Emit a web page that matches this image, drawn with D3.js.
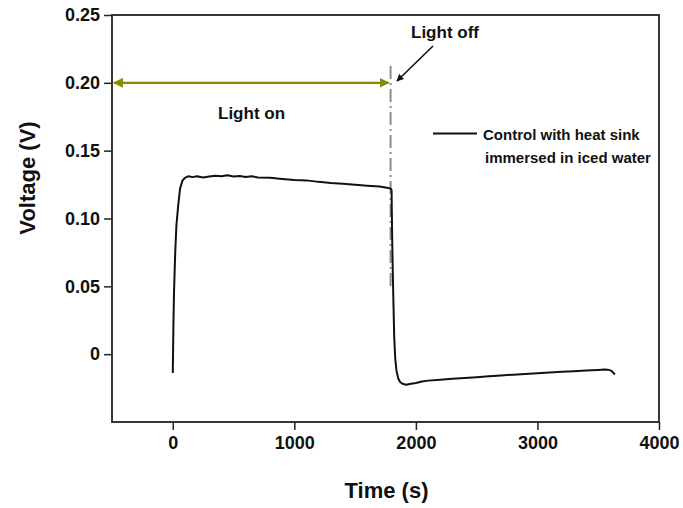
<!DOCTYPE html>
<html>
<head>
<meta charset="utf-8">
<script src="https://cdn.jsdelivr.net/npm/d3@7"></script>
<style>
  html, body { margin: 0; padding: 0; background: #fff; }
  svg { display: block; font-family: "Liberation Sans", Arial, sans-serif; }
</style>
</head>
<body>
<svg id="chart" width="683" height="508"></svg>
<script>
// ---- data ----
const timeS = [0, 5, 10, 20, 30, 45, 60, 80, 100, 130, 160, 200, 250, 300, 350, 400, 450, 500, 550, 600, 650, 700, 800, 900, 1000, 1100, 1200, 1300, 1400, 1500, 1600, 1700, 1750, 1790, 1800, 1802, 1805, 1810, 1816, 1822, 1830, 1840, 1855, 1870, 1890, 1920, 1960, 2000, 2050, 2100, 2200, 2300, 2400, 2500, 2600, 2700, 2800, 2900, 3000, 3100, 3200, 3300, 3400, 3500, 3550, 3580, 3610, 3637];
const voltage = [-0.0138, 0.020, 0.045, 0.075, 0.095, 0.110, 0.122, 0.128, 0.1300, 0.1312, 0.1305, 0.1312, 0.1302, 0.1310, 0.1315, 0.1312, 0.1318, 0.1310, 0.1314, 0.1306, 0.1311, 0.1303, 0.1301, 0.1292, 0.1284, 0.1281, 0.1270, 0.1262, 0.1256, 0.1249, 0.1242, 0.1236, 0.1228, 0.1222, 0.1210, 0.105, 0.085, 0.060, 0.035, 0.012, -0.003, -0.012, -0.018, -0.0205, -0.0218, -0.0226, -0.0218, -0.0212, -0.0202, -0.0195, -0.0188, -0.0182, -0.0176, -0.0170, -0.0163, -0.0157, -0.0151, -0.0146, -0.0140, -0.0135, -0.0130, -0.0126, -0.0121, -0.0116, -0.0113, -0.0114, -0.0123, -0.0150];
const xTicks = [0, 1000, 2000, 3000, 4000];
const yTicks = [0, 0.05, 0.10, 0.15, 0.20, 0.25];
const yTickLabels = ["0", "0.05", "0.10", "0.15", "0.20", "0.25"];
const xDomain = [-500, 4000];
const yDomain = [-0.05, 0.25];
const lightOffTime = 1800;
const lightOnLevel = 0.20;
const seriesName = ["Control with heat sink", "immersed in iced water"];

// ---- layout ----
const L = 112, R = 659, T = 15, B = 422;
const svg = d3.select("#chart");
const x = d3.scaleLinear().domain(xDomain).range([L, R]);
const y = d3.scaleLinear().domain(yDomain).range([B, T]);

const frameColor = "#222";

// axes
const xAxis = svg.append("g").attr("transform", `translate(0,${B})`)
  .call(d3.axisBottom(x).tickValues(xTicks).tickSize(8).tickPadding(6).tickFormat(d3.format("d")));
const yAxis = svg.append("g").attr("transform", `translate(${L},0)`)
  .call(d3.axisLeft(y).tickValues(yTicks).tickSize(8).tickPadding(4)
    .tickFormat((d, i) => yTickLabels[i]));
[xAxis, yAxis].forEach(g => {
  g.select(".domain").remove();
  g.selectAll(".tick line").attr("stroke", frameColor).attr("stroke-width", 1.5);
  g.selectAll(".tick text").attr("fill", "#111").style("font-size", "18px").style("font-weight", "bold")
    .style("font-family", "'Liberation Sans', Arial, sans-serif");
});

// frame
svg.append("rect").attr("x", L).attr("y", T).attr("width", R - L).attr("height", B - T)
  .attr("fill", "none").attr("stroke", frameColor).attr("stroke-width", 1.8);

// axis titles
svg.append("text").attr("x", (L + R) / 2 + 1).attr("y", 498).attr("text-anchor", "middle")
  .style("font-size", "22px").style("font-weight", "bold").attr("fill", "#111").text("Time (s)");
svg.append("text").attr("transform", "translate(35,178) rotate(-90)").attr("text-anchor", "middle")
  .style("font-size", "22px").style("font-weight", "bold").attr("fill", "#111").text("Voltage (V)");

// defs for arrows
const defs = svg.append("defs");
function marker(id, color, orientStart) {
  defs.append("marker").attr("id", id).attr("viewBox", "0 0 10 10")
    .attr("refX", 9).attr("refY", 5).attr("markerWidth", 4.5).attr("markerHeight", 4.5)
    .attr("markerUnits", "strokeWidth")
    .attr("orient", orientStart ? "auto-start-reverse" : "auto")
    .append("path").attr("d", "M0,0 L10,5 L0,10 z").attr("fill", color);
}
marker("olive", "#8a8a00", true);
marker("blk", "#111", false);

// dash-dot light-off line
svg.append("line").attr("x1", x(lightOffTime) - 1).attr("x2", x(lightOffTime) - 1)
  .attr("y1", y(0.2125)).attr("y2", y(0.05))
  .attr("stroke", "#8c8c8c").attr("stroke-width", 2).attr("stroke-dasharray", "13,4,2,4");

// light-on double arrow
svg.append("line").attr("x1", L + 2).attr("x2", x(lightOffTime) - 3)
  .attr("y1", y(lightOnLevel)).attr("y2", y(lightOnLevel))
  .attr("stroke", "#8a8a00").attr("stroke-width", 2.2)
  .attr("marker-start", "url(#olive)").attr("marker-end", "url(#olive)");

// data line
const line = d3.line().x((d, i) => x(timeS[i])).y(d => y(d));
svg.append("path").datum(voltage).attr("d", line)
  .attr("fill", "none").attr("stroke", "#111").attr("stroke-width", 2).attr("stroke-linejoin", "round");

// annotations
svg.append("text").attr("x", 411).attr("y", 38).style("font-size", "17px").style("font-weight", "bold")
  .attr("fill", "#111").text("Light off");
svg.append("line").attr("x1", 433).attr("y1", 46).attr("x2", 397).attr("y2", 81)
  .attr("stroke", "#111").attr("stroke-width", 1.6).attr("marker-end", "url(#blk)");
svg.append("text").attr("x", 218).attr("y", 119).style("font-size", "17px").style("font-weight", "bold")
  .attr("fill", "#111").text("Light on");

// legend
svg.append("line").attr("x1", 433).attr("x2", 477).attr("y1", 133.5).attr("y2", 133.5)
  .attr("stroke", "#111").attr("stroke-width", 2);
svg.append("text").attr("x", 483).attr("y", 140).style("font-size", "15px").style("font-weight", "bold")
  .attr("fill", "#111").text(seriesName[0]);
svg.append("text").attr("x", 485).attr("y", 163).style("font-size", "15px").style("font-weight", "bold")
  .attr("fill", "#111").text(seriesName[1]);
</script>
</body>
</html>
